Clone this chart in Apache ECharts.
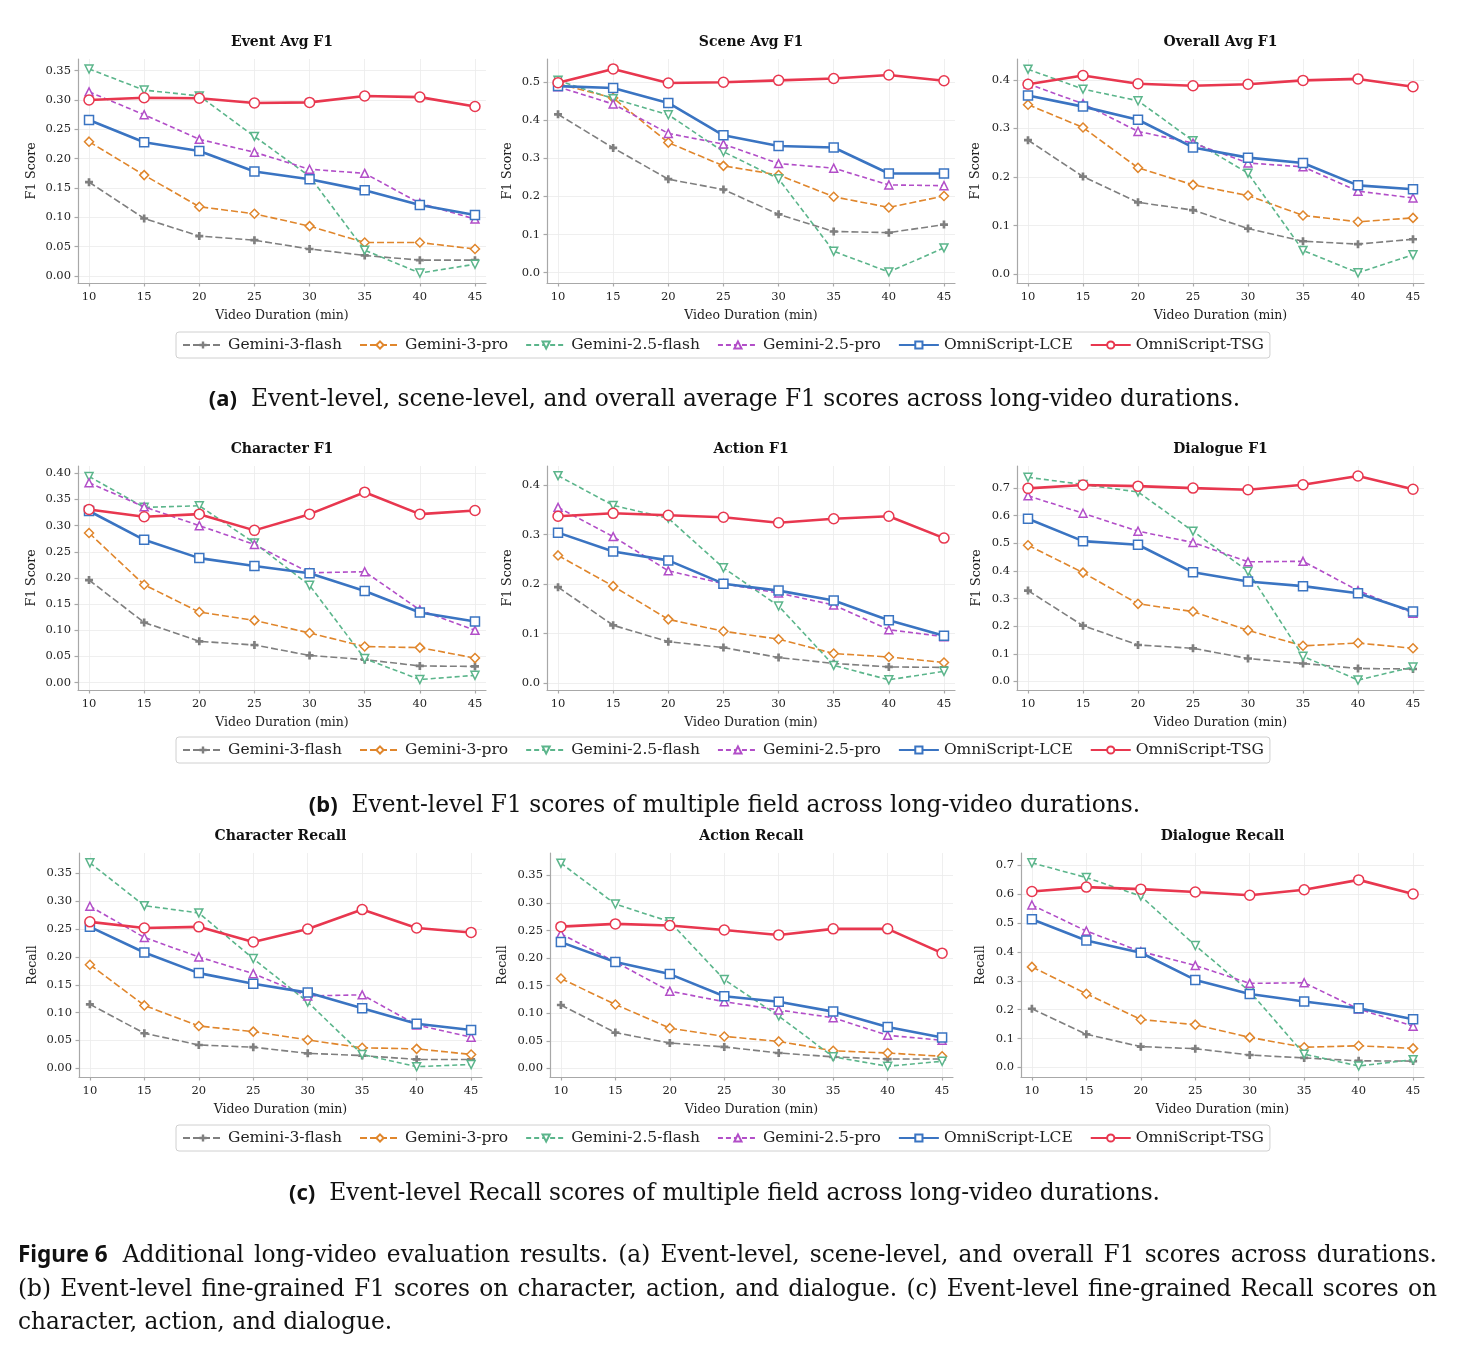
<!DOCTYPE html>
<html>
<head>
<meta charset="utf-8">
<script src="https://cdn.jsdelivr.net/npm/echarts@6/dist/echarts.min.js"></script>
<style>
  html, body { margin: 0; padding: 0; background: #fff; }
  #page { position: relative; width: 1457px; height: 1350px; overflow: hidden; }
  #chart { position: absolute; left: 0; top: 0; width: 1457px; height: 1350px; }
  .subcap { position: absolute; left: 0; width: 1449px; text-align: center; font-family: "DejaVu Serif", serif; font-size: 23.3px; line-height: 28px; color: #111; white-space: nowrap; }
  .tag { display: inline-block; font-family: "Noto Sans", sans-serif; font-weight: 700; font-size: 22px; margin-right: 14px; }
  #figcap { position: absolute; left: 18px; width: 1419px; top: 1237px; font-family: "DejaVu Serif", serif; font-size: 23.3px; line-height: 33.5px; color: #111; }
  #figcap .tag { font-size: 22.5px; margin-right: 15px; }
  #figcap .just { display: block; text-align: justify; text-align-last: justify; }
  #figcap .last { display: block; text-align: left; }
</style>
</head>
<body>
<div id="page">
  <div id="chart"></div>
  <div class="subcap" style="top:383px"><span class="tag">(a)</span>Event-level, scene-level, and overall average F1 scores across long-video durations.</div>
  <div class="subcap" style="top:789px"><span class="tag">(b)</span>Event-level F1 scores of multiple field across long-video durations.</div>
  <div class="subcap" style="top:1177px"><span class="tag">(c)</span>Event-level Recall scores of multiple field across long-video durations.</div>
  <div id="figcap">
    <span class="just"><span class="tag">Figure 6</span>Additional long-video evaluation results. (a) Event-level, scene-level, and overall F1 scores across durations.</span>
    <span class="just">(b) Event-level fine-grained F1 scores on character, action, and dialogue. (c) Event-level fine-grained Recall scores on</span>
    <span class="last">character, action, and dialogue.</span>
  </div>
</div>
<script>
const DURATIONS = [10, 15, 20, 25, 30, 35, 40, 45];
const MODELS = ["Gemini-3-flash", "Gemini-3-pro", "Gemini-2.5-flash", "Gemini-2.5-pro", "OmniScript-LCE", "OmniScript-TSG"];

const X_TICKS = [10, 15, 20, 25, 30, 35, 40, 45];
const Y_TICKS_035 = [0, 0.05, 0.1, 0.15, 0.2, 0.25, 0.3, 0.35];
const Y_TICKS_040 = [0, 0.05, 0.1, 0.15, 0.2, 0.25, 0.3, 0.35, 0.4];
const Y_TICKS_04 = [0, 0.1, 0.2, 0.3, 0.4];
const Y_TICKS_05 = [0, 0.1, 0.2, 0.3, 0.4, 0.5];
const Y_TICKS_07 = [0, 0.1, 0.2, 0.3, 0.4, 0.5, 0.6, 0.7];

// rows follow MODELS order
const EVENT_AVG_F1 = [
  [0.160, 0.098, 0.068, 0.061, 0.046, 0.035, 0.027, 0.027],
  [0.229, 0.172, 0.118, 0.106, 0.085, 0.057, 0.057, 0.046],
  [0.353, 0.317, 0.307, 0.238, 0.170, 0.044, 0.005, 0.020],
  [0.314, 0.275, 0.233, 0.211, 0.182, 0.175, 0.124, 0.097],
  [0.266, 0.228, 0.213, 0.178, 0.165, 0.146, 0.121, 0.104],
  [0.300, 0.304, 0.303, 0.295, 0.296, 0.307, 0.305, 0.289],
];
const SCENE_AVG_F1 = [
  [0.415, 0.327, 0.245, 0.218, 0.153, 0.108, 0.105, 0.126],
  [0.495, 0.458, 0.341, 0.280, 0.256, 0.199, 0.171, 0.201],
  [0.504, 0.456, 0.414, 0.317, 0.246, 0.056, 0.002, 0.065],
  [0.487, 0.442, 0.365, 0.337, 0.286, 0.274, 0.230, 0.228],
  [0.489, 0.484, 0.445, 0.360, 0.332, 0.328, 0.260, 0.260],
  [0.498, 0.534, 0.497, 0.499, 0.504, 0.509, 0.518, 0.503],
];
const OVERALL_AVG_F1 = [
  [0.276, 0.201, 0.148, 0.132, 0.094, 0.068, 0.062, 0.072],
  [0.349, 0.302, 0.219, 0.184, 0.162, 0.121, 0.108, 0.116],
  [0.422, 0.381, 0.357, 0.275, 0.208, 0.049, 0.003, 0.040],
  [0.392, 0.351, 0.294, 0.270, 0.229, 0.221, 0.171, 0.157],
  [0.368, 0.345, 0.318, 0.261, 0.240, 0.229, 0.183, 0.175],
  [0.391, 0.409, 0.392, 0.388, 0.391, 0.399, 0.402, 0.386],
];
const CHARACTER_F1 = [
  [0.196, 0.115, 0.079, 0.072, 0.052, 0.044, 0.032, 0.031],
  [0.286, 0.187, 0.135, 0.119, 0.095, 0.069, 0.067, 0.047],
  [0.394, 0.335, 0.338, 0.267, 0.186, 0.046, 0.006, 0.014],
  [0.382, 0.336, 0.300, 0.264, 0.210, 0.212, 0.139, 0.100],
  [0.328, 0.273, 0.238, 0.223, 0.209, 0.175, 0.134, 0.117],
  [0.331, 0.317, 0.322, 0.291, 0.322, 0.364, 0.322, 0.329],
];
const ACTION_F1 = [
  [0.194, 0.117, 0.084, 0.072, 0.052, 0.040, 0.033, 0.032],
  [0.258, 0.196, 0.129, 0.105, 0.089, 0.060, 0.053, 0.042],
  [0.419, 0.359, 0.333, 0.233, 0.156, 0.036, 0.007, 0.024],
  [0.355, 0.296, 0.227, 0.201, 0.182, 0.158, 0.108, 0.094],
  [0.304, 0.266, 0.248, 0.201, 0.187, 0.167, 0.127, 0.096],
  [0.337, 0.343, 0.339, 0.335, 0.324, 0.332, 0.337, 0.293],
];
const DIALOGUE_F1 = [
  [0.329, 0.202, 0.132, 0.120, 0.083, 0.065, 0.047, 0.045],
  [0.493, 0.394, 0.281, 0.253, 0.185, 0.129, 0.139, 0.120],
  [0.739, 0.713, 0.686, 0.544, 0.399, 0.091, 0.005, 0.052],
  [0.672, 0.609, 0.544, 0.503, 0.433, 0.435, 0.329, 0.247],
  [0.589, 0.508, 0.495, 0.395, 0.362, 0.345, 0.319, 0.253],
  [0.699, 0.711, 0.707, 0.700, 0.694, 0.712, 0.744, 0.696],
];
const CHARACTER_RECALL = [
  [0.115, 0.063, 0.042, 0.038, 0.027, 0.023, 0.016, 0.016],
  [0.186, 0.113, 0.076, 0.066, 0.051, 0.037, 0.035, 0.025],
  [0.369, 0.292, 0.279, 0.197, 0.119, 0.025, 0.003, 0.007],
  [0.291, 0.235, 0.200, 0.170, 0.130, 0.132, 0.078, 0.056],
  [0.254, 0.208, 0.171, 0.152, 0.136, 0.108, 0.080, 0.069],
  [0.263, 0.252, 0.254, 0.227, 0.250, 0.285, 0.252, 0.244],
];
const ACTION_RECALL = [
  [0.115, 0.065, 0.046, 0.039, 0.028, 0.021, 0.017, 0.017],
  [0.163, 0.116, 0.073, 0.058, 0.049, 0.032, 0.028, 0.022],
  [0.372, 0.298, 0.266, 0.161, 0.095, 0.021, 0.004, 0.013],
  [0.244, 0.193, 0.140, 0.121, 0.106, 0.092, 0.060, 0.051],
  [0.229, 0.193, 0.171, 0.131, 0.121, 0.103, 0.075, 0.056],
  [0.257, 0.262, 0.259, 0.251, 0.242, 0.253, 0.253, 0.209],
];
const DIALOGUE_RECALL = [
  [0.203, 0.115, 0.072, 0.065, 0.043, 0.033, 0.023, 0.022],
  [0.348, 0.255, 0.166, 0.148, 0.104, 0.070, 0.075, 0.066],
  [0.708, 0.657, 0.593, 0.422, 0.263, 0.046, 0.005, 0.027],
  [0.562, 0.472, 0.401, 0.353, 0.291, 0.293, 0.202, 0.143],
  [0.513, 0.439, 0.397, 0.303, 0.254, 0.228, 0.205, 0.167],
  [0.609, 0.624, 0.617, 0.607, 0.596, 0.615, 0.649, 0.600],
];

const SERIF = "DejaVu Serif";
const PLUS = "path://M3,0H6V3H9V6H6V9H3V6H0V3H3Z";

const MODEL_STYLES = [
  { color: "#7f7f7f", dash: [7, 3], width: 1.6, symbol: PLUS, size: 8, filled: true },
  { color: "#e0862c", dash: [7, 3], width: 1.6, symbol: "diamond", size: 9 },
  { color: "#5bb58b", dash: [5, 3], width: 1.6, symbol: "triangle", size: 8, rotate: 180 },
  { color: "#b24ec8", dash: [5, 3], width: 1.6, symbol: "triangle", size: 8 },
  { color: "#3a74c2", dash: null, width: 2.6, symbol: "rect", size: 9 },
  { color: "#e8374f", dash: null, width: 2.6, symbol: "circle", size: 10 },
];

const COLS = [
  { left: 78, width: 408 },
  { left: 547, width: 408 },
  { left: 1017, width: 407 },
];
const COLS_LAST_ROW = [
  { left: 79, width: 403 },
  { left: 550, width: 403 },
  { left: 1021, width: 403 },
];
const ROW_TOPS = [59, 466, 853];
const ROW_HEIGHT = 224;
const LEGEND_TOPS = [332, 737, 1125];

const panels = [
  { title: "Event Avg F1", values: EVENT_AVG_F1, yName: "F1 Score", range: [-0.012, 0.370], ticks: Y_TICKS_035, digits: 2, gap: 40 },
  { title: "Scene Avg F1", values: SCENE_AVG_F1, yName: "F1 Score", range: [-0.027, 0.560], ticks: Y_TICKS_05, digits: 1, gap: 33 },
  { title: "Overall Avg F1", values: OVERALL_AVG_F1, yName: "F1 Score", range: [-0.018, 0.443], ticks: Y_TICKS_04, digits: 1, gap: 34.5 },
  { title: "Character F1", values: CHARACTER_F1, yName: "F1 Score", range: [-0.014, 0.414], ticks: Y_TICKS_040, digits: 2, gap: 40 },
  { title: "Action F1", values: ACTION_F1, yName: "F1 Score", range: [-0.0136, 0.4385], ticks: Y_TICKS_04, digits: 1, gap: 33 },
  { title: "Dialogue F1", values: DIALOGUE_F1, yName: "F1 Score", range: [-0.031, 0.780], ticks: Y_TICKS_07, digits: 1, gap: 34 },
  { title: "Character Recall", values: CHARACTER_RECALL, yName: "Recall", range: [-0.0155, 0.3866], ticks: Y_TICKS_035, digits: 2, gap: 40 },
  { title: "Action Recall", values: ACTION_RECALL, yName: "Recall", range: [-0.0155, 0.3905], ticks: Y_TICKS_035, digits: 2, gap: 41 },
  { title: "Dialogue Recall", values: DIALOGUE_RECALL, yName: "Recall", range: [-0.033, 0.742], ticks: Y_TICKS_07, digits: 1, gap: 34 },
];

function panelBox(index) {
  const row = Math.floor(index / 3);
  const col = index % 3;
  const cols = row === 2 ? COLS_LAST_ROW : COLS;
  return { left: cols[col].left, width: cols[col].width, top: ROW_TOPS[row], height: ROW_HEIGHT };
}

const axisLineStyle = { color: "#a8a8a8", width: 1.2 };
const tickLabel = { fontFamily: SERIF, fontSize: 11.5, color: "#222" };
const nameStyle = { fontFamily: SERIF, fontSize: 12.5, color: "#222" };
const splitLine = { show: true, lineStyle: { color: "#ebebeb", width: 0.8 } };

const grids = [];
const xAxes = [];
const yAxes = [];
const titles = [];
const series = [];

panels.forEach((panel, i) => {
  const box = panelBox(i);
  grids.push({ ...box, show: false, containLabel: false, outerBoundsMode: "none" });
  titles.push({
    text: panel.title,
    left: box.left + box.width / 2,
    top: box.top - 24,
    textAlign: "center",
    padding: 0,
    textStyle: { fontFamily: SERIF, fontWeight: "bold", fontSize: 14, color: "#111" },
  });
  xAxes.push({
    type: "value",
    gridIndex: i,
    min: 9,
    max: 46,
    name: "Video Duration (min)",
    nameLocation: "middle",
    nameGap: 26,
    nameTextStyle: nameStyle,
    axisLine: { show: true, onZero: false, lineStyle: axisLineStyle },
    axisTick: { show: true, length: 3.5, customValues: X_TICKS, lineStyle: axisLineStyle },
    axisLabel: { ...tickLabel, margin: 8, customValues: X_TICKS },
    splitLine,
  });
  yAxes.push({
    type: "value",
    gridIndex: i,
    min: panel.range[0],
    max: panel.range[1],
    name: panel.yName,
    nameLocation: "middle",
    nameGap: panel.gap,
    nameTextStyle: nameStyle,
    axisLine: { show: true, onZero: false, lineStyle: axisLineStyle },
    axisTick: { show: true, length: 3.5, customValues: panel.ticks, lineStyle: axisLineStyle },
    axisLabel: {
      ...tickLabel,
      margin: 7,
      customValues: panel.ticks,
      formatter: (v) => Number(v).toFixed(panel.digits),
    },
    splitLine,
  });
  panel.values.forEach((vals, j) => {
    const s = MODEL_STYLES[j];
    series.push({
      type: "line",
      name: MODELS[j],
      xAxisIndex: i,
      yAxisIndex: i,
      data: DURATIONS.map((d, k) => [d, vals[k]]),
      symbol: s.symbol,
      symbolSize: s.size,
      symbolRotate: s.rotate || 0,
      showSymbol: true,
      lineStyle: { color: s.color, width: s.width, type: s.dash || "solid" },
      itemStyle: {
        color: s.filled ? s.color : "#ffffff",
        borderColor: s.color,
        borderWidth: s.filled ? 0 : 1.5,
      },
      emphasis: { disabled: true },
      z: 2 + j,
    });
  });
});

const legends = LEGEND_TOPS.map((top) => ({
  data: MODELS,
  top,
  left: 176,
  orient: "horizontal",
  itemWidth: 40,
  itemHeight: 9,
  itemGap: 17,
  padding: [5, 6],
  borderColor: "#d0d0d0",
  borderWidth: 1,
  borderRadius: 3,
  textStyle: { fontFamily: SERIF, fontSize: 15.5, color: "#222" },
}));

const chart = echarts.init(document.getElementById("chart"), null, { renderer: "canvas" });
chart.setOption({
  animation: false,
  backgroundColor: "#ffffff",
  title: titles,
  legend: legends,
  grid: grids,
  xAxis: xAxes,
  yAxis: yAxes,
  tooltip: { show: false },
  series,
});
</script>
</body>
</html>
